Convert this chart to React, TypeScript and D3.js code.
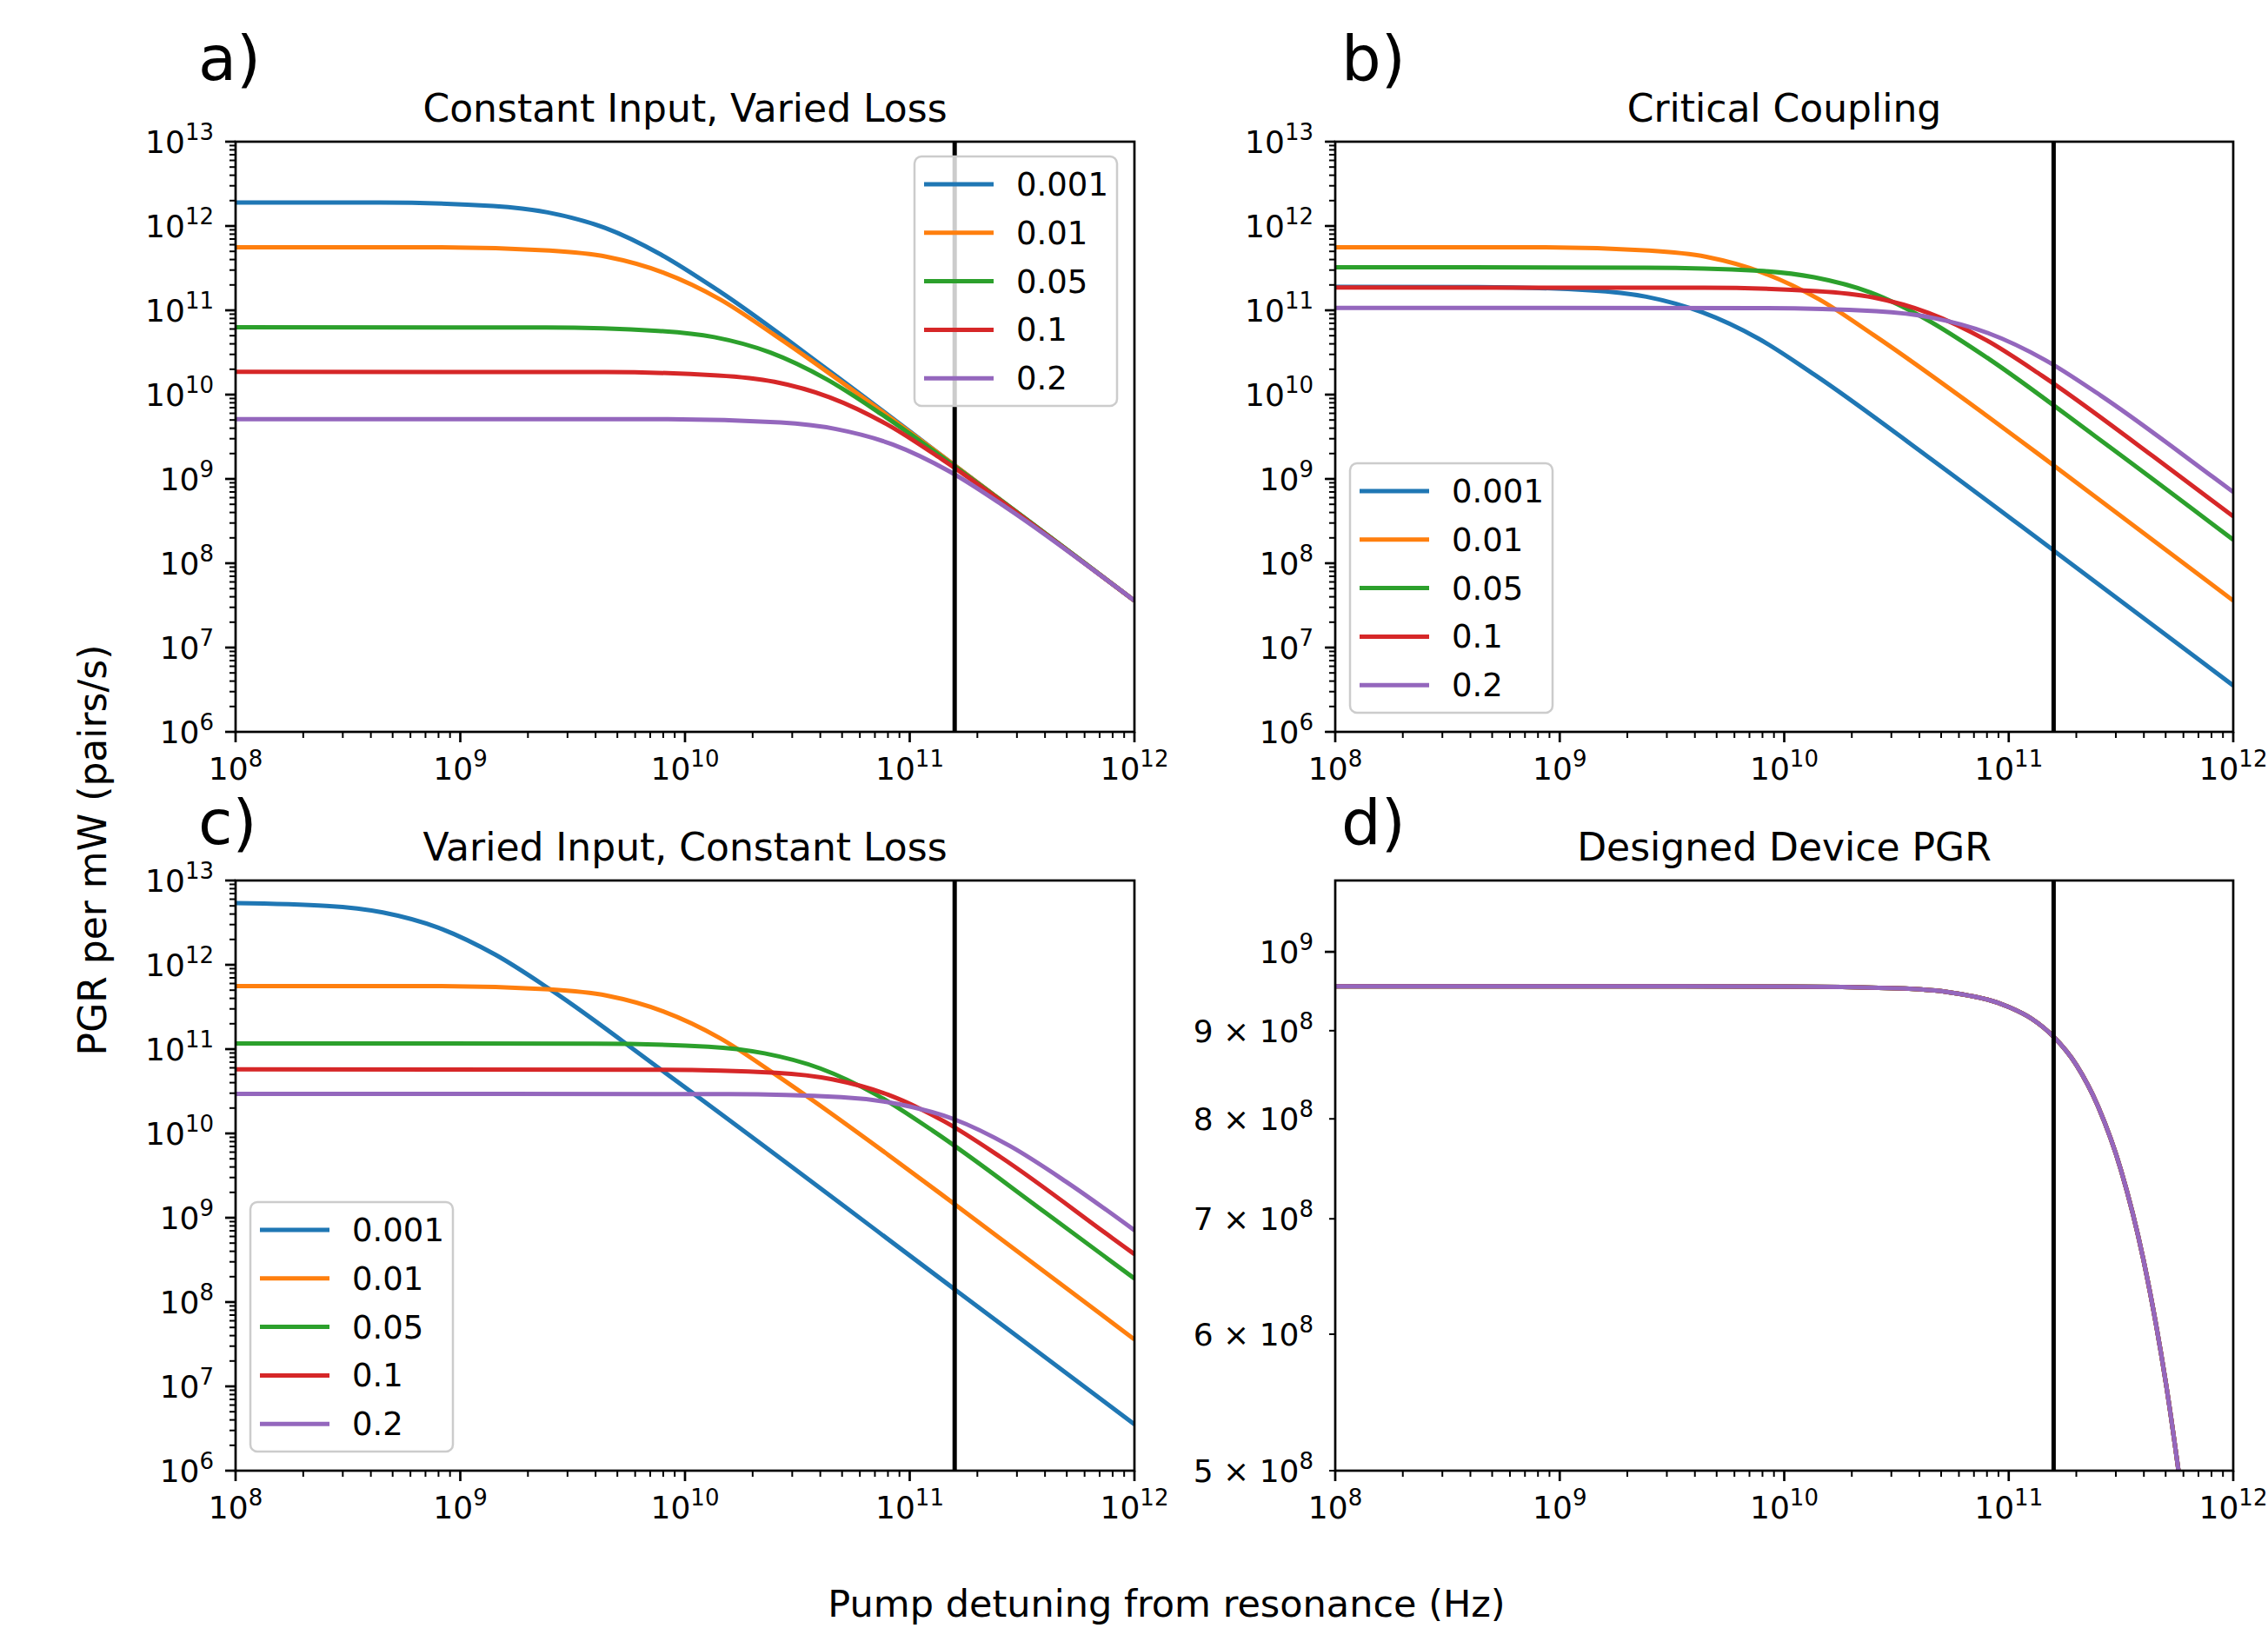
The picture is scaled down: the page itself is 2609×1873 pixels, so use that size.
import React from 'react';
import * as d3 from 'd3';

type Pt = [number, number];

// legend entries and matplotlib tab10 colours
const lossLabels = ['0.001', '0.01', '0.05', '0.1', '0.2'];
const lineColors = ['#1f77b4', '#ff7f0e', '#2ca02c', '#d62728', '#9467bd'];

// vertical marker (Hz)
const resonanceHz = 1.585e11;

const xTickValues = [1e8, 1e9, 1e10, 1e11, 1e12];
const yTickValues = [1e6, 1e7, 1e8, 1e9, 1e10, 1e11, 1e12, 1e13];
const deviceTickValues = [5e8, 6e8, 7e8, 8e8, 9e8, 1e9];
const deviceTickMantissa = ['5', '6', '7', '8', '9', ''];

// the 0.01 curve is the same in a), b) and c)
const loss001Curve: Pt[] = [[1e8, 5.6e11], [8.0e8, 5.6e11], [2.5e9, 5.1e11], [4.5e9, 4.3e11], [8.0e9, 2.8e11], [1.43e10, 1.35e11], [2.5e10, 5.1e10], [8.0e10, 5.6e9], [1.6e11, 1.42e9], [1e12, 3.6e7]];

// a) Constant Input, Varied Loss
const aLoss0001: Pt[] = [[1e8, 1.9e12], [4.4e8, 1.9e12], [1.4e9, 1.73e12], [2.45e9, 1.45e12], [4.4e9, 9.5e11], [7.8e9, 4.6e11], [1.4e10, 1.73e11], [4.4e10, 1.9e10], [1.6e11, 1.42e9], [1e12, 3.6e7]];
const aLoss005: Pt[] = [[1e8, 6.3e10], [2.4e9, 6.25e10], [7.6e9, 5.7e10], [1.35e10, 4.8e10], [2.4e10, 3.15e10], [4.27e10, 1.52e10], [7.6e10, 5.7e9], [2.4e11, 6.25e8], [1e12, 3.6e7]];
const aLoss01: Pt[] = [[1e8, 1.86e10], [4.4e9, 1.85e10], [1.4e10, 1.69e10], [2.5e10, 1.42e10], [4.4e10, 9.3e9], [7.85e10, 4.5e9], [1.4e11, 1.69e9], [4.4e11, 1.85e8], [1e12, 3.6e7]];
const aLoss02: Pt[] = [[1e8, 5.1e9], [8.4e9, 5.1e9], [2.66e10, 4.67e9], [4.7e10, 3.9e9], [8.4e10, 2.56e9], [1.5e11, 1.23e9], [2.66e11, 4.67e8], [8.4e11, 5.1e7], [1e12, 3.6e7]];

// b) Critical Coupling
const bLoss0001: Pt[] = [[1e8, 1.9e11], [4.3e8, 1.89e11], [1.36e9, 1.73e11], [2.43e9, 1.45e11], [4.3e9, 9.5e10], [7.7e9, 4.6e10], [1.36e10, 1.73e10], [4.3e10, 1.89e9], [1.6e11, 1.39e8], [1e12, 3.55e6]];
const bLoss005: Pt[] = [[1e8, 3.24e11], [2.43e9, 3.2e11], [7.7e9, 2.94e11], [1.36e10, 2.46e11], [2.43e10, 1.62e11], [4.3e10, 7.8e10], [7.7e10, 2.94e10], [2.43e11, 3.2e9], [1e12, 1.9e8]];
const bLoss01: Pt[] = [[1e8, 1.86e11], [4.4e9, 1.85e11], [1.4e10, 1.69e11], [2.5e10, 1.42e11], [4.4e10, 9.3e10], [7.85e10, 4.5e10], [1.4e11, 1.69e10], [4.4e11, 1.85e9], [1e12, 3.6e8]];
const bLoss02: Pt[] = [[1e8, 1.07e11], [8.1e9, 1.06e11], [2.57e10, 9.75e10], [4.57e10, 8.15e10], [8.1e10, 5.36e10], [1.45e11, 2.58e10], [2.57e11, 9.75e9], [8.1e11, 1.06e9], [1e12, 7.0e8]];

// c) Varied Input, Constant Loss
const cLoss0001: Pt[] = [[1e8, 5.4e12], [2.54e8, 5.0e12], [4.52e8, 4.18e12], [8.0e8, 2.75e12], [1.43e9, 1.32e12], [2.54e9, 5.0e11], [8.0e9, 5.45e10], [1.6e11, 1.39e8], [1e12, 3.55e6]];
const cLoss005: Pt[] = [[1e8, 1.17e11], [4.0e9, 1.16e11], [1.27e10, 1.07e11], [2.26e10, 8.9e10], [4.0e10, 5.9e10], [7.2e10, 2.82e10], [1.27e11, 1.07e10], [4.0e11, 1.16e9], [1e12, 1.9e8]];
const cLoss01: Pt[] = [[1e8, 5.75e10], [8.0e9, 5.7e10], [2.54e10, 5.24e10], [4.52e10, 4.38e10], [8.0e10, 2.88e10], [1.43e11, 1.38e10], [2.54e11, 5.24e9], [8.0e11, 5.7e8], [1e12, 3.7e8]];
const cLoss02: Pt[] = [[1e8, 2.95e10], [1.57e10, 2.92e10], [4.95e10, 2.69e10], [8.8e10, 2.24e10], [1.57e11, 1.48e10], [2.79e11, 7.1e9], [4.95e11, 2.69e9], [1e12, 7.1e8]];

// d) Designed Device PGR (all five traces sit on top of each other)
const devicePGR: Pt[] = [[1e8, 9.55e8], [1e9, 9.55e8], [1e10, 9.547e8], [3.16e10, 9.524e8], [5.62e10, 9.468e8], [1e11, 9.29e8], [1.26e11, 9.148e8], [1.585e11, 8.927e8], [2.0e11, 8.598e8], [2.51e11, 8.124e8], [3.16e11, 7.473e8], [3.98e11, 6.629e8], [5.01e11, 5.623e8], [6.31e11, 4.53e8]];

const FONT = 'DejaVu Sans';
const W = 2609;
const H = 1873;

const minorBetween = (lo: number, hi: number) => {
  const out: number[] = [];
  for (let k = Math.floor(Math.log10(lo)); k < Math.ceil(Math.log10(hi)); k++) {
    for (let m = 2; m <= 9; m++) {
      const v = m * Math.pow(10, k);
      if (v > lo * 1.0001 && v < hi * 0.9999) out.push(v);
    }
  }
  return out;
};

interface PanelProps {
  id: string;
  left: number;
  top: number;
  width: number;
  height: number;
  title: string;
  letter: string;
  letterX: number;
  letterY: number;
  series: Pt[][];
  yDomain: [number, number];
  device?: boolean;
  legend?: { x: number; y: number };
}

const Panel = ({ id, left, top, width, height, title, letter, letterX, letterY, series, yDomain, device, legend }: PanelProps) => {
  const x = d3.scaleLog().domain([1e8, 1e12]).range([0, width]);
  const y = d3.scaleLog().domain(yDomain).range([height, 0]);
  const line = d3.line<Pt>().x(d => x(d[0])).y(d => y(d[1])).curve(d3.curveMonotoneX);

  const xMinor = minorBetween(1e8, 1e12);
  const yMajor = device ? [1e9] : yTickValues;
  const yMinor = device ? [5e8, 6e8, 7e8, 8e8, 9e8] : minorBetween(yDomain[0], yDomain[1]);

  return (
    <g>
      <text x={letterX} y={letterY} fontFamily={FONT} fontSize={72} fill="#000">{letter}</text>
      <text x={left + width / 2} y={top - 23} textAnchor="middle" fontFamily={FONT} fontSize={44} fill="#000">{title}</text>
      <g transform={`translate(${left},${top})`}>
        <defs>
          <clipPath id={`clip-${id}`}>
            <rect x={0} y={0} width={width} height={height} />
          </clipPath>
        </defs>
        <g clipPath={`url(#clip-${id})`}>
          {series.map((s, i) => (
            <path key={i} d={line(s) || ''} fill="none" stroke={lineColors[i]} strokeWidth={5} strokeLinejoin="round" />
          ))}
          <line x1={x(resonanceHz)} x2={x(resonanceHz)} y1={0} y2={height} stroke="#000" strokeWidth={5} />
        </g>

        {/* x ticks */}
        {xMinor.map((v, i) => (
          <line key={`xm${i}`} x1={x(v)} x2={x(v)} y1={height} y2={height + 7} stroke="#000" strokeWidth={2} />
        ))}
        {xTickValues.map(v => (
          <g key={`xt${v}`}>
            <line x1={x(v)} x2={x(v)} y1={height} y2={height + 12} stroke="#000" strokeWidth={2.7} />
            <text x={x(v)} y={height + 55} textAnchor="middle" fontFamily={FONT} fontSize={36} fill="#000">
              10<tspan dy={-15} fontSize={26}>{Math.round(Math.log10(v))}</tspan>
            </text>
          </g>
        ))}

        {/* y ticks */}
        {yMinor.map((v, i) => (
          <line key={`ym${i}`} x1={0} x2={-7} y1={y(v)} y2={y(v)} stroke="#000" strokeWidth={2} />
        ))}
        {yMajor.map(v => (
          <g key={`yt${v}`}>
            <line x1={0} x2={-12} y1={y(v)} y2={y(v)} stroke="#000" strokeWidth={2.7} />
            <text x={-25} y={y(v) + 13} textAnchor="end" fontFamily={FONT} fontSize={36} fill="#000">
              10<tspan dy={-15} fontSize={26}>{Math.round(Math.log10(v))}</tspan>
            </text>
          </g>
        ))}
        {device && deviceTickValues.slice(0, 5).map((v, i) => (
          <text key={`dl${v}`} x={-25} y={y(v) + 13} textAnchor="end" fontFamily={FONT} fontSize={36} fill="#000">
            {`${deviceTickMantissa[i]} \u00d7 10`}<tspan dy={-15} fontSize={26}>8</tspan>
          </text>
        ))}

        <rect x={0} y={0} width={width} height={height} fill="none" stroke="#000" strokeWidth={2.7} />

        {legend && (
          <g transform={`translate(${legend.x},${legend.y})`}>
            <rect x={0} y={0} width={233} height={287} rx={8} fill="#fff" fillOpacity={0.8} stroke="#cccccc" strokeWidth={2.5} />
            {lossLabels.map((lab, i) => (
              <g key={lab} transform={`translate(0,${32 + i * 55.8})`}>
                <line x1={11} x2={91} y1={0} y2={0} stroke={lineColors[i]} strokeWidth={5} />
                <text x={117} y={13} fontFamily={FONT} fontSize={37} fill="#000">{lab}</text>
              </g>
            ))}
          </g>
        )}
      </g>
    </g>
  );
};

const App = () => {
  const pw = 1034;
  const ph = 679;
  return (
    <svg width={W} height={H} style={{ position: 'absolute', left: 0, top: 0, background: '#fff' }}>
      <rect x={0} y={0} width={W} height={H} fill="#fff" />
      <Panel id="a" left={271} top={163} width={pw} height={ph} letter="a)" letterX={228} letterY={92}
        title="Constant Input, Varied Loss" yDomain={[1e6, 1e13]}
        series={[aLoss0001, loss001Curve, aLoss005, aLoss01, aLoss02]}
        legend={{ x: pw - 253, y: 17 }} />
      <Panel id="b" left={1536} top={163} width={pw - 1} height={ph} letter="b)" letterX={1543} letterY={92}
        title="Critical Coupling" yDomain={[1e6, 1e13]}
        series={[bLoss0001, loss001Curve, bLoss005, bLoss01, bLoss02]}
        legend={{ x: 17, y: ph - 22 - 287 }} />
      <Panel id="c" left={271} top={1013} width={pw} height={ph} letter="c)" letterX={228} letterY={971}
        title="Varied Input, Constant Loss" yDomain={[1e6, 1e13]}
        series={[cLoss0001, loss001Curve, cLoss005, cLoss01, cLoss02]}
        legend={{ x: 17, y: ph - 22 - 287 }} />
      <Panel id="d" left={1536} top={1013} width={pw - 1} height={ph} letter="d)" letterX={1543} letterY={971}
        title="Designed Device PGR" yDomain={[5e8, 1.1e9]} device
        series={[devicePGR, devicePGR, devicePGR, devicePGR, devicePGR]} />

      <text transform="translate(122,978) rotate(-90)" textAnchor="middle" fontFamily={FONT} fontSize={44} fill="#000">
        PGR per mW (pairs/s)
      </text>
      <text x={1342} y={1860} textAnchor="middle" fontFamily={FONT} fontSize={43} fill="#000">
        Pump detuning from resonance (Hz)
      </text>
    </svg>
  );
};

export default App;
